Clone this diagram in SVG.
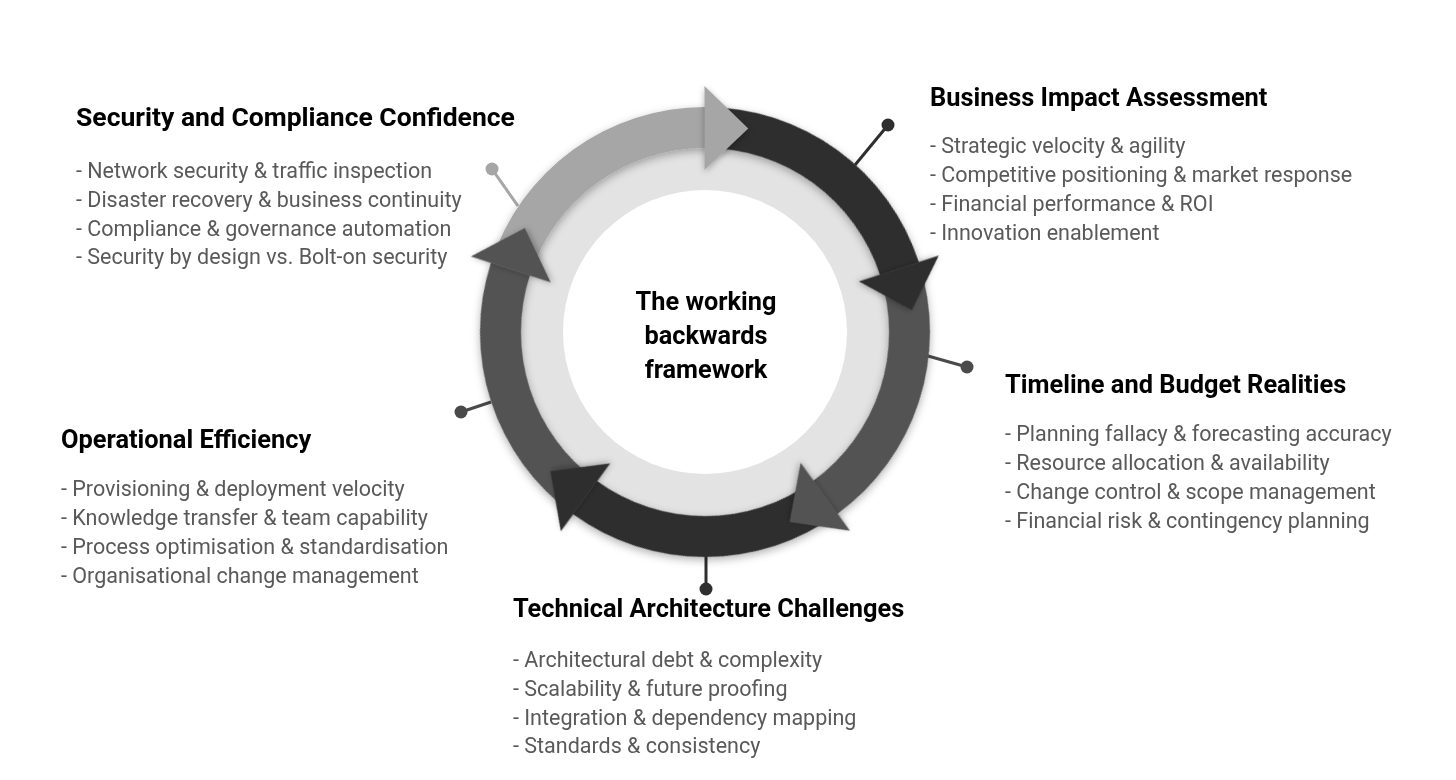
<svg xmlns="http://www.w3.org/2000/svg" xmlns:xlink="http://www.w3.org/1999/xlink" width="1456" height="780" viewBox="0 0 1456 780">
<style>
  .title { font-family: Roboto, "Liberation Sans", sans-serif; font-weight: 700; font-size: 25.4px; fill: #000000; }
  .title-lg { font-size: 26.5px; }
  .item { font-family: Roboto, "Liberation Sans", sans-serif; font-weight: 400; font-size: 21.5px; fill: #595959; }
  .center { font-family: Roboto, "Liberation Sans", sans-serif; font-weight: 700; font-size: 25.3px; fill: #000000; text-anchor: middle; }
  .pin { stroke-width: 3; fill: none; }
  .light { fill: #a6a6a6; }
  .dark { fill: #2f2f2f; }
  .mid { fill: #525252; }
</style>
<defs>
  <filter id="shadow" x="-20%" y="-20%" width="140%" height="140%">
    <feDropShadow dx="0" dy="2" stdDeviation="3" flood-color="#000" flood-opacity="0.3"/>
  </filter>
  <filter id="ringShadow" x="-20%" y="-20%" width="140%" height="140%">
    <feDropShadow dx="0" dy="3" stdDeviation="4" flood-color="#000" flood-opacity="0.3"/>
  </filter>
  <path id="body" d="M 491.0 262.5 A 225 225 0 0 1 705 107 L 705 148 A 184 184 0 0 0 530.0 275.1 Z"/>
  <path id="head" d="M 704.5 86 L 748.2 128.5 L 704.5 170 Z"/>
</defs>
<rect width="1456" height="780" fill="#ffffff"/>

<g id="connectors">
  <line class="pin" x1="518" y1="206" x2="492" y2="169" stroke="#a6a6a6"/>
  <circle cx="492" cy="169" r="6.5" fill="#a6a6a6"/>
  <line class="pin" x1="855" y1="165" x2="888" y2="125" stroke="#2f2f2f"/>
  <circle cx="888" cy="125" r="6.5" fill="#2f2f2f"/>
  <line class="pin" x1="928" y1="356" x2="967" y2="367" stroke="#4a4a4a"/>
  <circle cx="967" cy="367" r="6.5" fill="#4a4a4a"/>
  <line class="pin" x1="706" y1="555" x2="706" y2="589" stroke="#2f2f2f"/>
  <circle cx="706" cy="589" r="6.5" fill="#2f2f2f"/>
  <line class="pin" x1="491" y1="402" x2="461" y2="412" stroke="#4a4a4a"/>
  <circle cx="461" cy="412" r="6.5" fill="#4a4a4a"/>
</g>

<g id="cycle">
  <circle cx="705" cy="332" r="190" fill="#e3e3e3"/>
  <circle cx="705" cy="332" r="142" fill="#ffffff"/>
  <g id="bodies" filter="url(#ringShadow)">
    <use xlink:href="#body" href="#body" class="light"/>
    <use xlink:href="#body" href="#body" class="dark" transform="rotate(72 705 332)"/>
    <use xlink:href="#body" href="#body" class="mid" transform="rotate(144 705 332)"/>
    <use xlink:href="#body" href="#body" class="dark" transform="rotate(216 705 332)"/>
    <use xlink:href="#body" href="#body" class="mid" transform="rotate(288 705 332)"/>
  </g>
  <g id="heads">
    <use xlink:href="#head" href="#head" class="light" filter="url(#shadow)"/>
    <use xlink:href="#head" href="#head" class="dark" filter="url(#shadow)" transform="rotate(72 705 332)"/>
    <use xlink:href="#head" href="#head" class="mid" filter="url(#shadow)" transform="rotate(144 705 332)"/>
    <use xlink:href="#head" href="#head" class="dark" filter="url(#shadow)" transform="rotate(216 705 332)"/>
    <use xlink:href="#head" href="#head" class="mid" filter="url(#shadow)" transform="rotate(288 705 332)"/>
  </g>
</g>

<g id="center-node">
  <text class="center" x="706" y="310">The working</text>
  <text class="center" x="706" y="344">backwards</text>
  <text class="center" x="706" y="378">framework</text>
</g>

<g id="security">
  <text class="title title-lg" x="76" y="126">Security and Compliance Confidence</text>
  <text class="item" x="76" y="178">- Network security &amp; traffic inspection</text>
  <text class="item" x="76" y="207">- Disaster recovery &amp; business continuity</text>
  <text class="item" x="76" y="236">- Compliance &amp; governance automation</text>
  <text class="item" x="76" y="264">- Security by design vs. Bolt-on security</text>
</g>

<g id="business">
  <text class="title" x="930" y="106">Business Impact Assessment</text>
  <text class="item" x="930" y="153">- Strategic velocity &amp; agility</text>
  <text class="item" x="930" y="182">- Competitive positioning &amp; market response</text>
  <text class="item" x="930" y="211">- Financial performance &amp; ROI</text>
  <text class="item" x="930" y="240">- Innovation enablement</text>
</g>

<g id="timeline">
  <text class="title" x="1005" y="393">Timeline and Budget Realities</text>
  <text class="item" x="1005" y="441">- Planning fallacy &amp; forecasting accuracy</text>
  <text class="item" x="1005" y="470">- Resource allocation &amp; availability</text>
  <text class="item" x="1005" y="499">- Change control &amp; scope management</text>
  <text class="item" x="1005" y="528">- Financial risk &amp; contingency planning</text>
</g>

<g id="technical">
  <text class="title" x="513" y="617">Technical Architecture Challenges</text>
  <text class="item" x="513" y="667">- Architectural debt &amp; complexity</text>
  <text class="item" x="513" y="696">- Scalability &amp; future proofing</text>
  <text class="item" x="513" y="725">- Integration &amp; dependency mapping</text>
  <text class="item" x="513" y="753">- Standards &amp; consistency</text>
</g>

<g id="operational">
  <text class="title" x="61" y="448">Operational Efficiency</text>
  <text class="item" x="61" y="496">- Provisioning &amp; deployment velocity</text>
  <text class="item" x="61" y="525">- Knowledge transfer &amp; team capability</text>
  <text class="item" x="61" y="554">- Process optimisation &amp; standardisation</text>
  <text class="item" x="61" y="583">- Organisational change management</text>
</g>
</svg>
